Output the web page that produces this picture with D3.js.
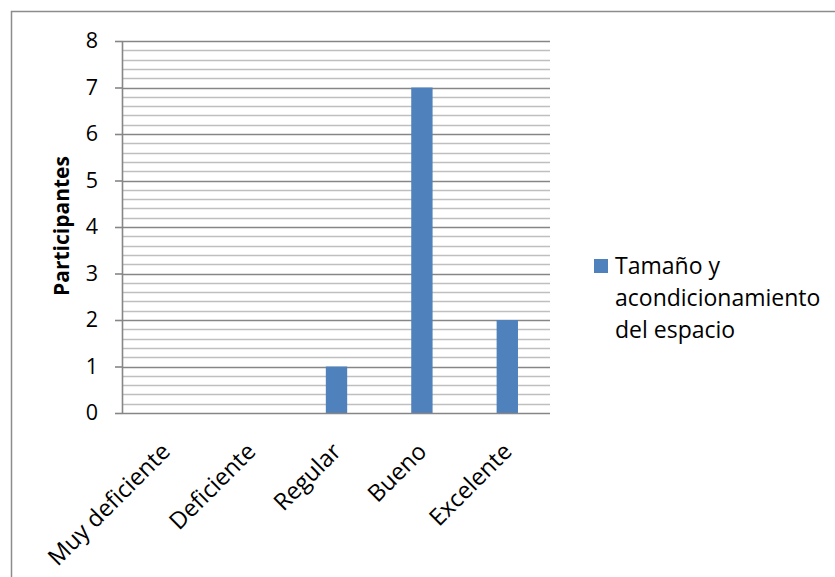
<!DOCTYPE html>
<html>
<head>
<meta charset="utf-8">
<script src="https://cdn.jsdelivr.net/npm/d3@7"></script>
<style>
  html, body { margin: 0; padding: 0; background: #fff; }
  svg { display: block; }
  text { font-family: "Open Sans", "Liberation Sans", sans-serif; fill: #000; }
</style>
</head>
<body>
<svg id="chart" width="835" height="577"></svg>
<script>
// Survey results: rating of space size and conditioning
const categories = ["Muy deficiente", "Deficiente", "Regular", "Bueno", "Excelente"];
const values = [0, 0, 1, 7, 2];
const seriesName = "Tamaño y acondicionamiento del espacio";
const legendLines = ["Tamaño y", "acondicionamiento", "del espacio"];
const yTicks = [0, 1, 2, 3, 4, 5, 6, 7, 8];
const yTitle = "Participantes";

const svg = d3.select("#chart");
const W = 835, H = 577;
const plot = { left: 123, right: 550, top: 41, bottom: 413 };
const barColor = "#4F81BD";

// Outer chart frame (open to the right and bottom)
svg.append("path")
  .attr("d", `M11.5,${H} V11.5 H${W}`)
  .attr("fill", "none")
  .attr("stroke", "#8c8c8c")
  .attr("stroke-width", 1.5);

const x = d3.scaleBand().domain(categories).range([plot.left, plot.right]).padding(0);
const y = d3.scaleLinear().domain([0, 8]).range([plot.bottom, plot.top]);

// Minor gridlines every 0.2
const minor = d3.range(0, 8.001, 0.2).filter(v => Math.abs(v - Math.round(v)) > 1e-6);
svg.append("g").selectAll("line").data(minor).join("line")
  .attr("x1", plot.left).attr("x2", plot.right)
  .attr("y1", d => Math.round(y(d)) + 0.5).attr("y2", d => Math.round(y(d)) + 0.5)
  .attr("stroke", "#bfbfbf").attr("stroke-width", 1.6);

// Major gridlines
svg.append("g").selectAll("line").data(yTicks.filter(d => d > 0)).join("line")
  .attr("x1", plot.left).attr("x2", plot.right)
  .attr("y1", d => Math.round(y(d)) + 0.5).attr("y2", d => Math.round(y(d)) + 0.5)
  .attr("stroke", "#868686").attr("stroke-width", 1.6);

// Bars
const barW = x.bandwidth() * 0.25;
svg.append("g").selectAll("rect").data(values).join("rect")
  .attr("x", (d, i) => x(categories[i]) + x.bandwidth() / 2 - barW / 2)
  .attr("width", barW)
  .attr("y", d => y(d))
  .attr("height", d => y(0) - y(d))
  .attr("fill", barColor);

// Y axis
const yAxis = d3.axisLeft(y).tickValues(yTicks).tickSize(8).tickPadding(17).tickFormat(d3.format("d"));
const gy = svg.append("g").attr("transform", `translate(${plot.left},0)`).call(yAxis);
gy.select(".domain").attr("stroke", "#868686").attr("stroke-width", 1.6).attr("d", `M-0.5,${plot.top} V${plot.bottom}`);
gy.selectAll(".tick line").attr("stroke", "#868686").attr("stroke-width", 1.6);
gy.selectAll(".tick text").attr("font-size", 21.5).attr("font-family", "'Open Sans', sans-serif").attr("fill", "#000");

// X axis baseline
svg.append("line")
  .attr("x1", plot.left).attr("x2", plot.right)
  .attr("y1", plot.bottom + 0.5).attr("y2", plot.bottom + 0.5)
  .attr("stroke", "#868686").attr("stroke-width", 1.6);

// Rotated category labels
svg.append("g").selectAll("text").data(categories).join("text")
  .attr("transform", d => `translate(${x(d) + x.bandwidth() / 2 + 6},453) rotate(-45)`)
  .attr("text-anchor", "end")
  .attr("font-size", 23.5)
  .text(d => d);

// Y axis title
svg.append("text")
  .attr("transform", `translate(69,226) rotate(-90)`)
  .attr("text-anchor", "middle")
  .attr("font-size", 21)
  .attr("font-weight", "bold")
  .text(yTitle);

// Legend
const lg = svg.append("g").attr("aria-label", seriesName);
lg.append("rect").attr("x", 594).attr("y", 259).attr("width", 14).attr("height", 14).attr("fill", barColor);
lg.selectAll("text").data(legendLines).join("text")
  .attr("x", 615)
  .attr("y", (d, i) => 274 + i * 32)
  .attr("font-size", 23)
  .text(d => d);
</script>
</body>
</html>
